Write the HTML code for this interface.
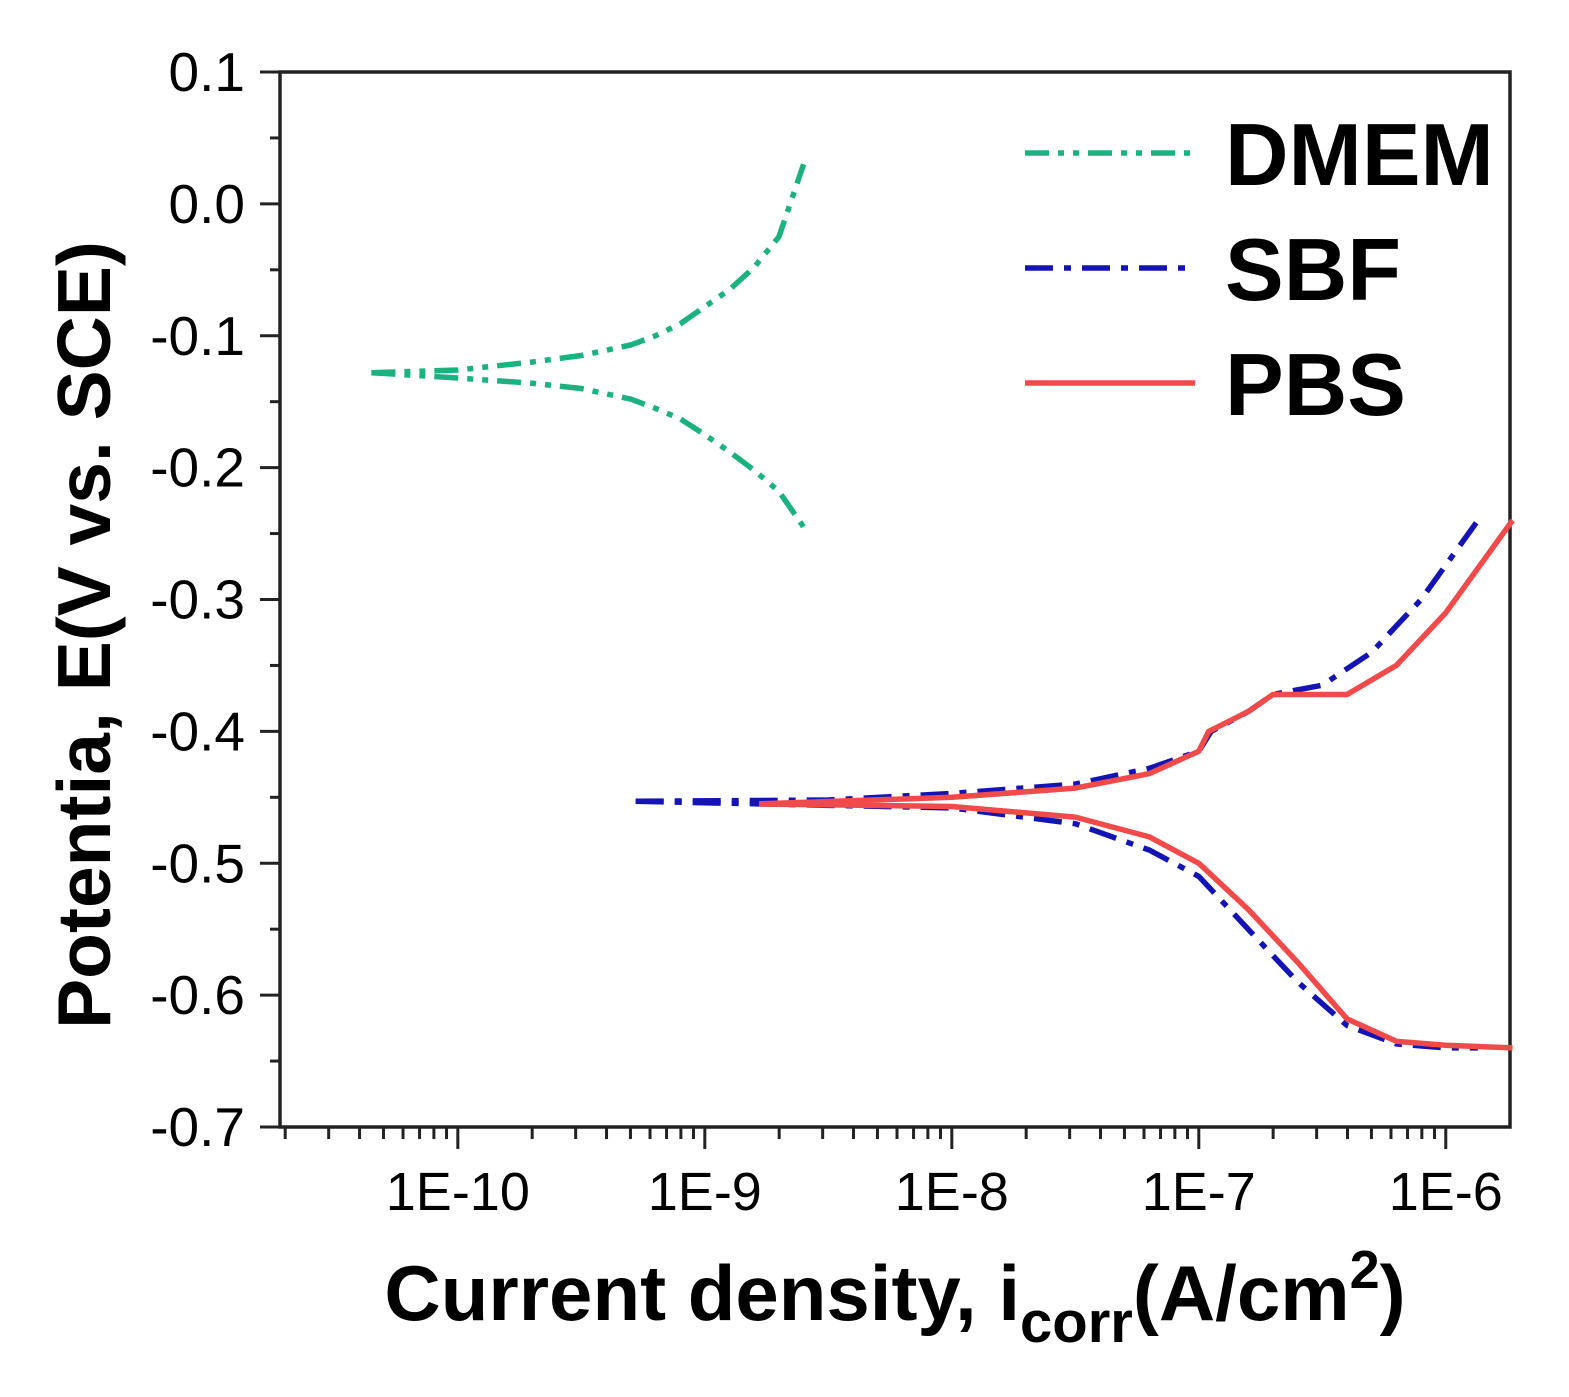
<!DOCTYPE html>
<html><head><meta charset="utf-8"><style>
body{margin:0;background:#fff}
svg text{font-family:"Liberation Sans",sans-serif}
</style></head><body>
<svg id="chart" width="1569" height="1392" xmlns="http://www.w3.org/2000/svg">
<g id="axes"></g>
<g id="series"></g>
<g id="legend"></g>
<text x="895" y="1320" text-anchor="middle" font-size="78" font-weight="bold">Current density, i<tspan font-size="58" dy="22">corr</tspan><tspan dy="-22">(A/cm</tspan><tspan font-size="54" dy="-32">2</tspan><tspan dy="32">)</tspan></text>
<text transform="translate(110,635) rotate(-90)" text-anchor="middle" font-size="75" font-weight="bold">Potentia, E(V vs. SCE)</text>
</svg>
<script>
const yTicks=[0.1,0.0,-0.1,-0.2,-0.3,-0.4,-0.5,-0.6,-0.7];
const yTickLabels=["0.1","0.0","-0.1","-0.2","-0.3","-0.4","-0.5","-0.6","-0.7"];
const xTickExps=[-10,-9,-8,-7,-6];
const xTickLabels=["1E-10","1E-9","1E-8","1E-7","1E-6"];
const dmemUpperLogI=[-10.35,-10,-9.7,-9.5,-9.3,-9.2,-9.1,-9,-8.9,-8.8,-8.7,-8.6];
const dmemUpperE=[-0.128,-0.126,-0.12,-0.115,-0.107,-0.1,-0.091,-0.078,-0.065,-0.048,-0.025,0.03];
const dmemLowerLogI=[-10.35,-10,-9.7,-9.5,-9.3,-9.2,-9.1,-9,-8.9,-8.8,-8.7,-8.6];
const dmemLowerE=[-0.128,-0.132,-0.136,-0.14,-0.148,-0.155,-0.163,-0.175,-0.188,-0.202,-0.218,-0.245];
const sbfUpperLogI=[-9.28,-8.5,-8,-7.5,-7.2,-7,-6.95,-6.8,-6.7,-6.5,-6.3,-6.1,-5.87];
const sbfUpperE=[-0.453,-0.452,-0.447,-0.44,-0.428,-0.415,-0.4,-0.385,-0.372,-0.365,-0.34,-0.3,-0.24];
const sbfLowerLogI=[-9.28,-8,-7.5,-7.2,-7,-6.8,-6.6,-6.4,-6.2,-6,-5.87];
const sbfLowerE=[-0.453,-0.458,-0.47,-0.49,-0.51,-0.55,-0.59,-0.623,-0.637,-0.64,-0.64];
const pbsUpperLogI=[-8.78,-8,-7.5,-7.2,-7,-6.96,-6.8,-6.7,-6.4,-6.2,-6,-5.73];
const pbsUpperE=[-0.455,-0.45,-0.443,-0.432,-0.415,-0.4,-0.385,-0.372,-0.372,-0.35,-0.31,-0.24];
const pbsLowerLogI=[-8.78,-8,-7.5,-7.2,-7,-6.8,-6.6,-6.4,-6.2,-6,-5.73];
const pbsLowerE=[-0.455,-0.457,-0.465,-0.48,-0.5,-0.535,-0.575,-0.618,-0.635,-0.638,-0.64];

const L=280,R=1510,T=72,B=1127;
const X0=-10.72,X1=-5.74,Y0=-0.7,Y1=0.1;
const xs=v=>L+(v-X0)/(X1-X0)*(R-L);
const ys=v=>B-(v-Y0)/(Y1-Y0)*(B-T);
const NS="http://www.w3.org/2000/svg";
function mk(tag,parent,attrs){const e=document.createElementNS(NS,tag);for(const k in attrs)e.setAttribute(k,attrs[k]);parent.appendChild(e);return e;}
const ax=document.getElementById('axes');
let frame=mk('rect',ax,{x:L,y:T,width:R-L,height:B-T,fill:'none',stroke:'#222','stroke-width':3.5});


yTicks.forEach((v,i)=>{
 let t=mk('line',ax,{x1:L-20,x2:L,y1:ys(v),y2:ys(v),stroke:'#222','stroke-width':3});
 
 
 if(i<yTicks.length-1){let m=mk('line',ax,{x1:L-10,x2:L,y1:ys(v-0.05),y2:ys(v-0.05),stroke:'#222','stroke-width':3});
 
 }
 let tx=mk('text',ax,{x:245,y:ys(v)+19,'text-anchor':'end','font-size':55});
 tx.textContent=yTickLabels[i];
 
 
});
for(let d=-11;d<=-6;d++){for(let k=1;k<10;k++){const lv=d+Math.log10(k);if(lv<X0||lv>X1)continue;
 let t=mk('line',ax,{x1:xs(lv),x2:xs(lv),y1:B,y2:B+(k==1?22:12),stroke:'#222','stroke-width':3});
 
 }}
xTickExps.forEach((e,i)=>{let tx=mk('text',ax,{x:xs(e),y:1210,'text-anchor':'middle','font-size':54});
 tx.textContent=xTickLabels[i];
 
 });
const sg=document.getElementById('series');
function line(xa,ya,color,dash,name){const d=xa.map((x,i)=>(i?'L':'M')+xs(x).toFixed(1)+','+ys(ya[i]).toFixed(1)).join('');
 let p=mk('path',sg,{d:d,fill:'none',stroke:color,'stroke-width':5.5,'stroke-dasharray':dash,'stroke-linejoin':'round'});
 
 }
const G='#1cb27f',Bl='#1414b4',Rd='#f04a4a';
const dD='24 9 6 9 6 9',dS='28 11 7 11';
line(dmemUpperLogI,dmemUpperE,G,dD,'dmem-anodic-line');
line(dmemLowerLogI,dmemLowerE,G,dD,'dmem-cathodic-line');
line(sbfUpperLogI,sbfUpperE,Bl,dS,'sbf-anodic-line');
line(sbfLowerLogI,sbfLowerE,Bl,dS,'sbf-cathodic-line');
line(pbsUpperLogI,pbsUpperE,Rd,'none','pbs-anodic-line');
line(pbsLowerLogI,pbsLowerE,Rd,'none','pbs-cathodic-line');
const lg=document.getElementById('legend');
[['DMEM',G,dD,153],['SBF',Bl,dS,268],['PBS',Rd,'none',383]].forEach(([n,c,da,y])=>{
 let l=mk('line',lg,{x1:1025,x2:1195,y1:y,y2:y,stroke:c,'stroke-width':5.5,'stroke-dasharray':da});
 
 
 let t=mk('text',lg,{x:1225,y:y+32,'font-size':88,'font-weight':'bold'});t.textContent=n;
 
 
});
</script>
</body></html>
